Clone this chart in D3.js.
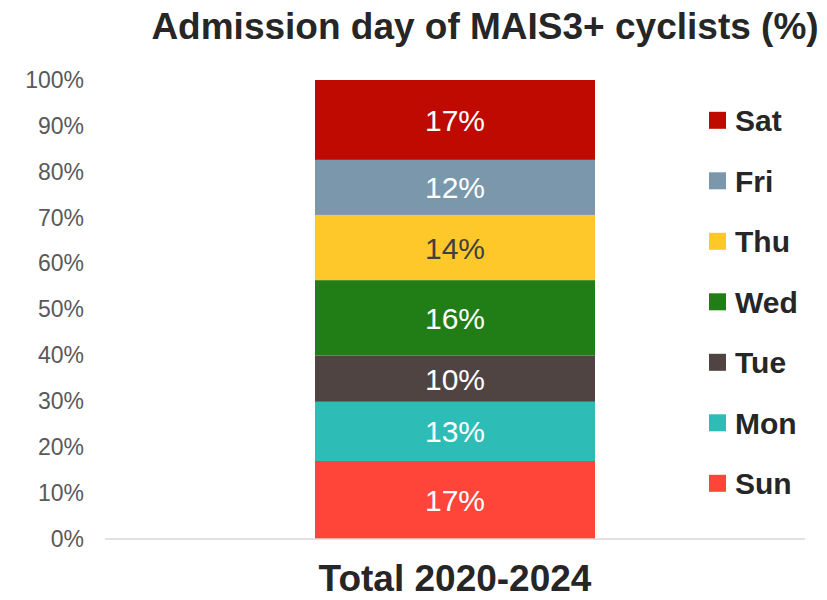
<!DOCTYPE html>
<html>
<head>
<meta charset="utf-8">
<script src="https://cdn.jsdelivr.net/npm/d3@7"></script>
<style>
  html, body { margin: 0; padding: 0; background: #fff; }
  svg { display: block; font-family: "Liberation Sans", Arial, sans-serif; }
</style>
</head>
<body>
<svg id="chart" width="827" height="600"></svg>
<script>
// Data
const categories = ["Total 2020-2024"];
const days = ["Sun", "Mon", "Tue", "Wed", "Thu", "Fri", "Sat"];
const shares = [17.0, 12.9, 10.1, 16.4, 14.2, 12.0, 17.4]; // % of admissions
const colors = ["#FF453A", "#2EBDB6", "#504442", "#217D16", "#FFC82A", "#7A97AB", "#BE0A00"];
const labelColors = ["#ffffff", "#ffffff", "#ffffff", "#ffffff", "#404040", "#ffffff", "#ffffff"];
const yTicks = [0, 0.1, 0.2, 0.3, 0.4, 0.5, 0.6, 0.7, 0.8, 0.9, 1.0];
const title = "Admission day of MAIS3+ cyclists (%)";

const svg = d3.select("#chart");
const W = 827, H = 600;
const margin = { left: 105, right: 22, top: 80, bottom: 61 };

const total = d3.sum(shares);
const rows = days.map((d, i) => ({ day: d, value: shares[i] / total, color: colors[i], lc: labelColors[i] }));
let acc = 0;
rows.forEach(r => { r.y0 = acc; acc += r.value; r.y1 = acc; });

const x = d3.scaleBand().domain(categories)
  .range([margin.left, W - margin.right])
  .paddingInner(0).paddingOuter(0.75);
const y = d3.scaleLinear().domain([0, 1]).range([H - margin.bottom, margin.top]);

// Y axis labels
const yAxis = svg.append("g").attr("transform", `translate(${margin.left - 21},0)`)
  .call(d3.axisLeft(y).tickValues(yTicks).tickFormat(d3.format(".0%")).tickSize(0).tickPadding(0));
yAxis.select(".domain").remove();
yAxis.selectAll("text").attr("fill", "#595959").style("font-size", "23px")
  .style("font-family", '"Liberation Sans", Arial, sans-serif');

// Bars
const cx = categories[0];
svg.append("g").selectAll("rect").data(rows).join("rect")
  .attr("x", x(cx)).attr("width", x.bandwidth())
  .attr("y", d => y(d.y1)).attr("height", d => y(d.y0) - y(d.y1))
  .attr("fill", d => d.color);

// Baseline
svg.append("line")
  .attr("x1", margin.left).attr("x2", W - margin.right)
  .attr("y1", y(0)).attr("y2", y(0))
  .attr("stroke", "#d9d9d9").attr("stroke-width", 1.5);

// Data labels
svg.append("g").selectAll("text").data(rows).join("text")
  .attr("x", x(cx) + x.bandwidth() / 2)
  .attr("y", d => (y(d.y0) + y(d.y1)) / 2 + 11)
  .attr("text-anchor", "middle")
  .attr("fill", d => d.lc)
  .style("font-size", "30px")
  .text(d => d3.format(".0%")(d.value));

// X axis label
svg.append("text")
  .attr("x", x(cx) + x.bandwidth() / 2).attr("y", 591)
  .attr("text-anchor", "middle").attr("fill", "#262626")
  .style("font-size", "37px").style("font-weight", "bold")
  .text(cx);

// Title
svg.append("text")
  .attr("x", 485).attr("y", 39)
  .attr("text-anchor", "middle").attr("fill", "#262626")
  .style("font-size", "37px").style("font-weight", "bold")
  .text(title);

// Legend (Sat on top)
const legendRows = rows.slice().reverse();
const lg = svg.append("g").selectAll("g").data(legendRows).join("g")
  .attr("transform", (d, i) => `translate(709, ${120.3 + i * 60.5})`);
lg.append("rect").attr("x", 0).attr("y", -8.5).attr("width", 17).attr("height", 17)
  .attr("fill", d => d.color);
lg.append("text").attr("x", 26).attr("y", 11)
  .attr("fill", "#262626").style("font-size", "30px").style("font-weight", "bold")
  .text(d => d.day);
</script>
</body>
</html>
